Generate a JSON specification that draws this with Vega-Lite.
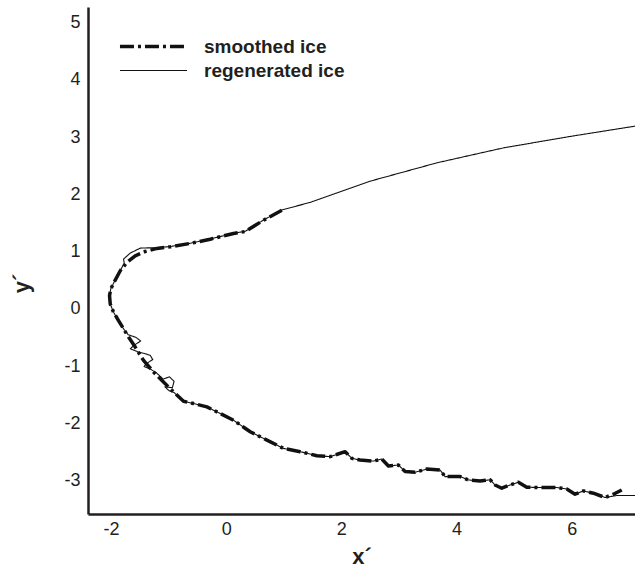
{
  "$schema": "https://vega.github.io/schema/vega-lite/v6.json",
  "autosize": "none",
  "width": 547,
  "height": 507,
  "padding": {"left": 88, "top": 7, "right": 0, "bottom": 61},
  "background": "white",
  "config": {
    "view": {"stroke": null},
    "font": "Liberation Sans",
    "axis": {
      "grid": false,
      "ticks": false,
      "tickSize": 0,
      "domainColor": "#231f20",
      "domainWidth": 2.5,
      "labelFont": "Liberation Sans",
      "labelFontSize": 18,
      "labelColor": "#231f20",
      "labelExpr": "'' + datum.value",
      "titleFont": "Liberation Sans",
      "titleFontSize": 22,
      "titleFontWeight": "bold",
      "titleColor": "#231f20"
    },
    "legend": {
      "title": null,
      "orient": "none",
      "legendX": 55,
      "legendY": 29,
      "padding": 0,
      "symbolType": "M-4,0H4",
      "symbolSize": 281,
      "symbolStrokeColor": "#111111",
      "labelOffset": 40,
      "labelFont": "Liberation Sans",
      "labelFontSize": 19,
      "labelFontWeight": "bold",
      "labelColor": "#231f20",
      "rowPadding": 4
    }
  },
  "data": {
    "values": [
      {"s": "regenerated ice", "i": 1, "x": 7.10, "y": 3.19},
      {"s": "regenerated ice", "i": 2, "x": 5.97, "y": 3.01},
      {"s": "regenerated ice", "i": 3, "x": 4.81, "y": 2.81},
      {"s": "regenerated ice", "i": 4, "x": 3.66, "y": 2.55},
      {"s": "regenerated ice", "i": 5, "x": 2.50, "y": 2.23},
      {"s": "regenerated ice", "i": 6, "x": 1.46, "y": 1.86},
      {"s": "regenerated ice", "i": 7, "x": 0.967, "y": 1.727},
      {"s": "regenerated ice", "i": 8, "x": 0.648, "y": 1.55},
      {"s": "regenerated ice", "i": 9, "x": 0.33, "y": 1.355},
      {"s": "regenerated ice", "i": 10, "x": 0.127, "y": 1.32},
      {"s": "regenerated ice", "i": 11, "x": -0.278, "y": 1.22},
      {"s": "regenerated ice", "i": 12, "x": -0.625, "y": 1.146},
      {"s": "regenerated ice", "i": 13, "x": -0.972, "y": 1.088},
      {"s": "regenerated ice", "i": 14, "x": -1.20, "y": 1.07},
      {"s": "regenerated ice", "i": 15, "x": -1.493, "y": 1.061},
      {"s": "regenerated ice", "i": 16, "x": -1.667, "y": 0.974},
      {"s": "regenerated ice", "i": 17, "x": -1.783, "y": 0.87},
      {"s": "regenerated ice", "i": 18, "x": -1.771, "y": 0.80},
      {"s": "regenerated ice", "i": 19, "x": -1.840, "y": 0.666},
      {"s": "regenerated ice", "i": 20, "x": -1.957, "y": 0.447},
      {"s": "regenerated ice", "i": 21, "x": -2.005, "y": 0.348},
      {"s": "regenerated ice", "i": 22, "x": -2.026, "y": 0.231},
      {"s": "regenerated ice", "i": 23, "x": -2.014, "y": 0.087},
      {"s": "regenerated ice", "i": 24, "x": -1.957, "y": -0.057},
      {"s": "regenerated ice", "i": 25, "x": -1.870, "y": -0.203},
      {"s": "regenerated ice", "i": 26, "x": -1.783, "y": -0.348},
      {"s": "regenerated ice", "i": 27, "x": -1.701, "y": -0.452},
      {"s": "regenerated ice", "i": 28, "x": -1.570, "y": -0.495},
      {"s": "regenerated ice", "i": 29, "x": -1.485, "y": -0.560},
      {"s": "regenerated ice", "i": 30, "x": -1.600, "y": -0.635},
      {"s": "regenerated ice", "i": 31, "x": -1.665, "y": -0.695},
      {"s": "regenerated ice", "i": 32, "x": -1.545, "y": -0.745},
      {"s": "regenerated ice", "i": 33, "x": -1.430, "y": -0.775},
      {"s": "regenerated ice", "i": 34, "x": -1.320, "y": -0.810},
      {"s": "regenerated ice", "i": 35, "x": -1.275, "y": -0.885},
      {"s": "regenerated ice", "i": 36, "x": -1.380, "y": -0.950},
      {"s": "regenerated ice", "i": 37, "x": -1.425, "y": -1.005},
      {"s": "regenerated ice", "i": 38, "x": -1.319, "y": -1.050},
      {"s": "regenerated ice", "i": 39, "x": -1.215, "y": -1.113},
      {"s": "regenerated ice", "i": 40, "x": -1.094, "y": -1.225},
      {"s": "regenerated ice", "i": 41, "x": -0.985, "y": -1.185},
      {"s": "regenerated ice", "i": 42, "x": -0.905, "y": -1.265},
      {"s": "regenerated ice", "i": 43, "x": -0.935, "y": -1.375},
      {"s": "regenerated ice", "i": 44, "x": -1.065, "y": -1.360},
      {"s": "regenerated ice", "i": 45, "x": -0.990, "y": -1.430},
      {"s": "regenerated ice", "i": 46, "x": -0.903, "y": -1.461},
      {"s": "regenerated ice", "i": 47, "x": -0.741, "y": -1.612},
      {"s": "regenerated ice", "i": 48, "x": -0.568, "y": -1.652},
      {"s": "regenerated ice", "i": 49, "x": -0.335, "y": -1.710},
      {"s": "regenerated ice", "i": 50, "x": -0.104, "y": -1.826},
      {"s": "regenerated ice", "i": 51, "x": 0.127, "y": -1.943},
      {"s": "regenerated ice", "i": 52, "x": 0.417, "y": -2.144},
      {"s": "regenerated ice", "i": 53, "x": 0.707, "y": -2.290},
      {"s": "regenerated ice", "i": 54, "x": 0.995, "y": -2.435},
      {"s": "regenerated ice", "i": 55, "x": 1.285, "y": -2.492},
      {"s": "regenerated ice", "i": 56, "x": 1.575, "y": -2.562},
      {"s": "regenerated ice", "i": 57, "x": 1.806, "y": -2.579},
      {"s": "regenerated ice", "i": 58, "x": 2.066, "y": -2.492},
      {"s": "regenerated ice", "i": 59, "x": 2.182, "y": -2.609},
      {"s": "regenerated ice", "i": 60, "x": 2.326, "y": -2.638},
      {"s": "regenerated ice", "i": 61, "x": 2.557, "y": -2.656},
      {"s": "regenerated ice", "i": 62, "x": 2.703, "y": -2.621},
      {"s": "regenerated ice", "i": 63, "x": 2.818, "y": -2.743},
      {"s": "regenerated ice", "i": 64, "x": 2.991, "y": -2.725},
      {"s": "regenerated ice", "i": 65, "x": 3.108, "y": -2.840},
      {"s": "regenerated ice", "i": 66, "x": 3.281, "y": -2.852},
      {"s": "regenerated ice", "i": 67, "x": 3.484, "y": -2.795},
      {"s": "regenerated ice", "i": 68, "x": 3.715, "y": -2.812},
      {"s": "regenerated ice", "i": 69, "x": 3.802, "y": -2.927},
      {"s": "regenerated ice", "i": 70, "x": 4.063, "y": -2.927},
      {"s": "regenerated ice", "i": 71, "x": 4.207, "y": -2.986},
      {"s": "regenerated ice", "i": 72, "x": 4.410, "y": -3.003},
      {"s": "regenerated ice", "i": 73, "x": 4.583, "y": -2.983},
      {"s": "regenerated ice", "i": 74, "x": 4.670, "y": -3.073},
      {"s": "regenerated ice", "i": 75, "x": 4.786, "y": -3.130},
      {"s": "regenerated ice", "i": 76, "x": 4.931, "y": -3.073},
      {"s": "regenerated ice", "i": 77, "x": 5.075, "y": -3.026},
      {"s": "regenerated ice", "i": 78, "x": 5.220, "y": -3.113},
      {"s": "regenerated ice", "i": 79, "x": 5.509, "y": -3.118},
      {"s": "regenerated ice", "i": 80, "x": 5.741, "y": -3.118},
      {"s": "regenerated ice", "i": 81, "x": 5.915, "y": -3.143},
      {"s": "regenerated ice", "i": 82, "x": 6.059, "y": -3.235},
      {"s": "regenerated ice", "i": 83, "x": 6.203, "y": -3.177},
      {"s": "regenerated ice", "i": 84, "x": 6.377, "y": -3.217},
      {"s": "regenerated ice", "i": 85, "x": 6.580, "y": -3.292},
      {"s": "regenerated ice", "i": 86, "x": 6.783, "y": -3.257},
      {"s": "regenerated ice", "i": 87, "x": 7.10, "y": -3.257},

      {"s": "smoothed ice", "i": 1, "x": 0.967, "y": 1.722},
      {"s": "smoothed ice", "i": 2, "x": 0.648, "y": 1.548},
      {"s": "smoothed ice", "i": 3, "x": 0.330, "y": 1.351},
      {"s": "smoothed ice", "i": 4, "x": 0.127, "y": 1.317},
      {"s": "smoothed ice", "i": 5, "x": -0.278, "y": 1.217},
      {"s": "smoothed ice", "i": 6, "x": -0.625, "y": 1.143},
      {"s": "smoothed ice", "i": 7, "x": -0.972, "y": 1.083},
      {"s": "smoothed ice", "i": 8, "x": -1.203, "y": 1.056},
      {"s": "smoothed ice", "i": 9, "x": -1.406, "y": 1.003},
      {"s": "smoothed ice", "i": 10, "x": -1.580, "y": 0.927},
      {"s": "smoothed ice", "i": 11, "x": -1.724, "y": 0.812},
      {"s": "smoothed ice", "i": 12, "x": -1.840, "y": 0.666},
      {"s": "smoothed ice", "i": 13, "x": -1.957, "y": 0.447},
      {"s": "smoothed ice", "i": 14, "x": -2.005, "y": 0.348},
      {"s": "smoothed ice", "i": 15, "x": -2.026, "y": 0.231},
      {"s": "smoothed ice", "i": 16, "x": -2.014, "y": 0.087},
      {"s": "smoothed ice", "i": 17, "x": -1.957, "y": -0.057},
      {"s": "smoothed ice", "i": 18, "x": -1.870, "y": -0.203},
      {"s": "smoothed ice", "i": 19, "x": -1.783, "y": -0.348},
      {"s": "smoothed ice", "i": 20, "x": -1.696, "y": -0.492},
      {"s": "smoothed ice", "i": 21, "x": -1.580, "y": -0.666},
      {"s": "smoothed ice", "i": 22, "x": -1.436, "y": -0.899},
      {"s": "smoothed ice", "i": 23, "x": -1.262, "y": -1.101},
      {"s": "smoothed ice", "i": 24, "x": -1.089, "y": -1.275},
      {"s": "smoothed ice", "i": 25, "x": -0.915, "y": -1.449},
      {"s": "smoothed ice", "i": 26, "x": -0.741, "y": -1.612},
      {"s": "smoothed ice", "i": 27, "x": -0.568, "y": -1.652},
      {"s": "smoothed ice", "i": 28, "x": -0.335, "y": -1.710},
      {"s": "smoothed ice", "i": 29, "x": -0.104, "y": -1.826},
      {"s": "smoothed ice", "i": 30, "x": 0.127, "y": -1.943},
      {"s": "smoothed ice", "i": 31, "x": 0.417, "y": -2.144},
      {"s": "smoothed ice", "i": 32, "x": 0.707, "y": -2.290},
      {"s": "smoothed ice", "i": 33, "x": 0.995, "y": -2.435},
      {"s": "smoothed ice", "i": 34, "x": 1.285, "y": -2.492},
      {"s": "smoothed ice", "i": 35, "x": 1.575, "y": -2.562},
      {"s": "smoothed ice", "i": 36, "x": 1.806, "y": -2.579},
      {"s": "smoothed ice", "i": 37, "x": 2.066, "y": -2.492},
      {"s": "smoothed ice", "i": 38, "x": 2.182, "y": -2.609},
      {"s": "smoothed ice", "i": 39, "x": 2.326, "y": -2.638},
      {"s": "smoothed ice", "i": 40, "x": 2.557, "y": -2.656},
      {"s": "smoothed ice", "i": 41, "x": 2.703, "y": -2.621},
      {"s": "smoothed ice", "i": 42, "x": 2.818, "y": -2.743},
      {"s": "smoothed ice", "i": 43, "x": 2.991, "y": -2.725},
      {"s": "smoothed ice", "i": 44, "x": 3.108, "y": -2.840},
      {"s": "smoothed ice", "i": 45, "x": 3.281, "y": -2.852},
      {"s": "smoothed ice", "i": 46, "x": 3.484, "y": -2.795},
      {"s": "smoothed ice", "i": 47, "x": 3.715, "y": -2.812},
      {"s": "smoothed ice", "i": 48, "x": 3.802, "y": -2.927},
      {"s": "smoothed ice", "i": 49, "x": 4.063, "y": -2.927},
      {"s": "smoothed ice", "i": 50, "x": 4.207, "y": -2.986},
      {"s": "smoothed ice", "i": 51, "x": 4.410, "y": -3.003},
      {"s": "smoothed ice", "i": 52, "x": 4.583, "y": -2.983},
      {"s": "smoothed ice", "i": 53, "x": 4.670, "y": -3.073},
      {"s": "smoothed ice", "i": 54, "x": 4.786, "y": -3.130},
      {"s": "smoothed ice", "i": 55, "x": 4.931, "y": -3.073},
      {"s": "smoothed ice", "i": 56, "x": 5.075, "y": -3.026},
      {"s": "smoothed ice", "i": 57, "x": 5.220, "y": -3.113},
      {"s": "smoothed ice", "i": 58, "x": 5.509, "y": -3.118},
      {"s": "smoothed ice", "i": 59, "x": 5.741, "y": -3.118},
      {"s": "smoothed ice", "i": 60, "x": 5.915, "y": -3.143},
      {"s": "smoothed ice", "i": 61, "x": 6.059, "y": -3.235},
      {"s": "smoothed ice", "i": 62, "x": 6.203, "y": -3.177},
      {"s": "smoothed ice", "i": 63, "x": 6.377, "y": -3.217},
      {"s": "smoothed ice", "i": 64, "x": 6.580, "y": -3.292},
      {"s": "smoothed ice", "i": 65, "x": 6.724, "y": -3.235},
      {"s": "smoothed ice", "i": 66, "x": 6.870, "y": -3.160}
    ]
  },
  "mark": {"type": "line", "color": "#111111", "clip": true, "strokeCap": "butt", "strokeJoin": "round"},
  "encoding": {
    "x": {
      "field": "x",
      "type": "quantitative",
      "scale": {"domain": [-2.4, 7.1], "nice": false, "zero": false},
      "axis": {"values": [-2, 0, 2, 4, 6], "title": "x´", "labelPadding": 6, "titlePadding": 8, "orient": "bottom"}
    },
    "y": {
      "field": "y",
      "type": "quantitative",
      "scale": {"domain": [-3.58, 5.27], "nice": false, "zero": false},
      "axis": {"values": [-3, -2, -1, 0, 1, 2, 3, 4, 5], "title": "y´", "labelPadding": 8, "titlePadding": 30, "titleY": 276}
    },
    "order": {"field": "i", "type": "quantitative"},
    "strokeDash": {
      "field": "s",
      "type": "nominal",
      "scale": {"domain": ["smoothed ice", "regenerated ice"], "range": [[14, 4, 3, 4], [1, 0]]}
    },
    "strokeWidth": {
      "field": "s",
      "type": "nominal",
      "scale": {"domain": ["smoothed ice", "regenerated ice"], "range": [3.5, 1.1]}
    }
  }
}
